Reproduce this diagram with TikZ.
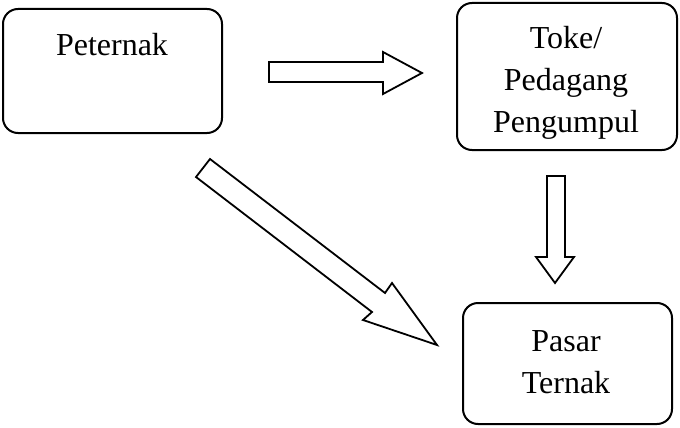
\documentclass[tikz,border=0pt]{standalone}
\usepackage{fontspec}
\setmainfont{Liberation Serif}
\begin{document}
\begin{tikzpicture}[x=1pt,y=-1pt,
  box/.style={draw,line width=2pt,rounded corners=15pt},
  blockarrow/.style={draw,line width=1.8pt,line join=miter,fill=white},
  lbl/.style={font=\fontsize{32}{42}\selectfont,align=center}]
\useasboundingbox (0,0) rectangle (680,428);
\draw[box] (3,9) rectangle (222,133);
\node[lbl] (peternak) at (112,45) {Peternak};
\draw[box] (457,3) rectangle (677,150);
\node[lbl] (toke) at (566,83) {Toke/\\Pedagang\\Pengumpul};
\draw[box] (463,303) rectangle (672,424);
\node[lbl] (pasar) at (566,362) {Pasar\\Ternak};
% horizontal arrow
\draw[blockarrow] (269,62) -- (383,62) -- (383,52) -- (422,73) -- (383,94) -- (383,82) -- (269,82) -- cycle;
% vertical arrow
\draw[blockarrow] (547,176) -- (565,176) -- (565,257) -- (574,257) -- (555,283) -- (536,257) -- (547,257) -- cycle;
% diagonal arrow
\draw[blockarrow] (210,159) -- (385,293) -- (392,283) -- (437,345) -- (363,320) -- (372,312) -- (196,177) -- cycle;
\end{tikzpicture}
\end{document}
